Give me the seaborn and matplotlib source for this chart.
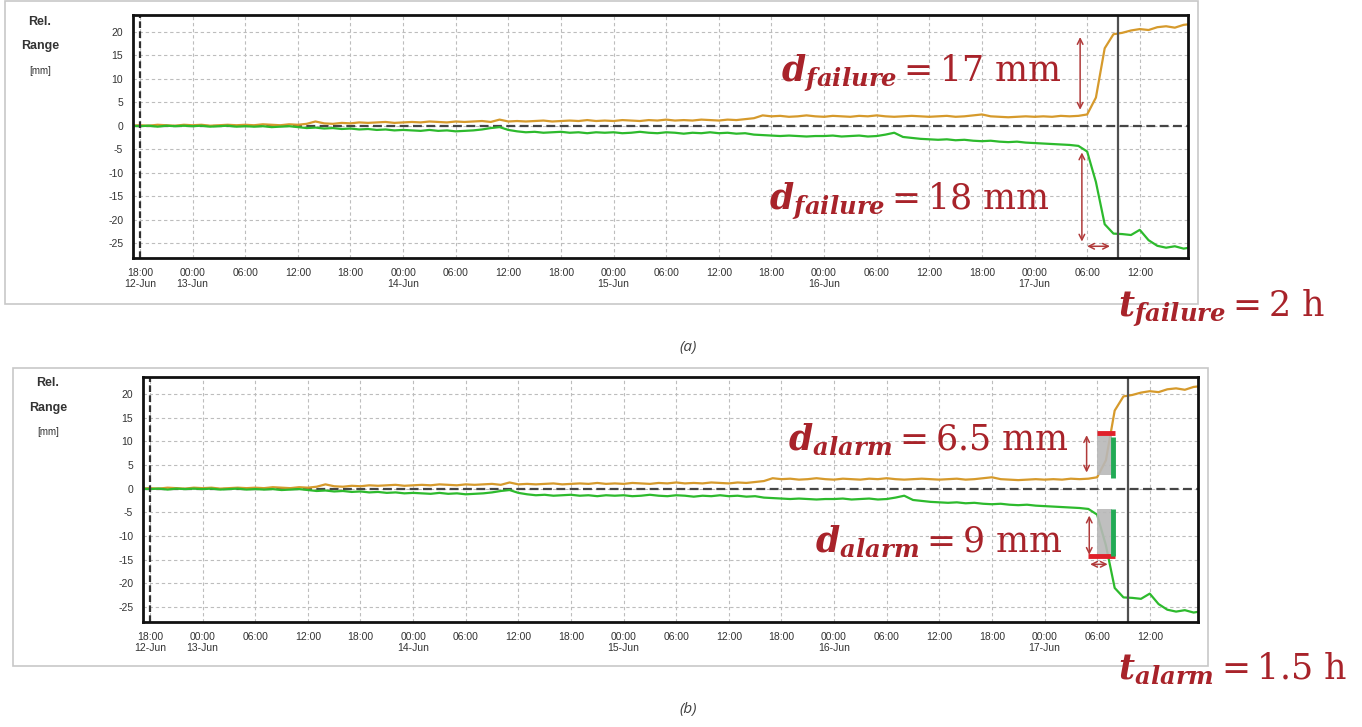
import numpy as np
import pandas as pd
import matplotlib
matplotlib.use("Agg")
import matplotlib.pyplot as plt
import matplotlib.dates as mdates
from matplotlib.patches import Rectangle
import seaborn as sns

W, H = 1362, 727

# ---------------- data (hourly readings, start 12-Jun 17:00) ----------------
START = "2019-06-12 17:00"
orange_mm = [
    0.0, 0.1, 0.0, 0.2, 0.1, 0.0, 0.2,
    0.1, 0.2, 0.0, 0.1, 0.2, 0.1, 0.2, 0.1, 0.3, 0.2, 0.1, 0.3,
    0.2, 0.4, 0.9, 0.5, 0.4, 0.6, 0.5, 0.7, 0.6, 0.7, 0.8, 0.6,
    0.7, 0.8, 0.7, 0.9, 0.8, 0.7, 0.9, 0.8, 0.9, 1.0, 0.8, 1.3,
    0.9, 1.0, 0.9, 1.0, 1.1, 0.9, 1.0, 1.1, 1.0, 1.2, 1.0, 1.1,
    1.0, 1.2, 1.1, 1.0, 1.2, 1.1, 1.3, 1.1, 1.2, 1.1, 1.3, 1.2,
    1.1, 1.3, 1.2, 1.4, 1.6, 2.2, 2.0, 2.1, 1.9, 2.0, 2.2, 2.0,
    1.9, 2.1, 2.0, 1.9, 2.1, 2.0, 2.2, 2.0, 1.9, 2.0, 2.1, 2.0,
    1.9, 2.0, 2.1, 1.9, 2.0, 2.2, 2.4, 2.0, 1.9, 1.8, 1.9, 2.0,
    1.9, 2.0, 1.9, 2.1, 2.0, 2.1, 2.4, 6.0, 16.5, 19.5, 19.8, 20.3,
    20.6, 20.4, 21.0, 21.2, 20.9, 21.5, 21.7,
]
green_mm = [
    0.0, -0.1, 0.0, -0.2, 0.0, -0.1, 0.0,
    -0.1, 0.0, -0.2, -0.1, 0.0, -0.2, -0.1, -0.2, -0.1, -0.3, -0.2, -0.1,
    -0.3, -0.5, -0.4, -0.6, -0.5, -0.7, -0.6, -0.8, -0.7, -0.9, -0.8, -1.0,
    -0.9, -1.0, -1.1, -0.9, -1.1, -1.0, -1.2, -1.1, -1.0, -0.8, -0.5, -0.3,
    -0.9, -1.2, -1.4, -1.3, -1.5, -1.4, -1.3, -1.5, -1.4, -1.6, -1.4, -1.5,
    -1.4, -1.6, -1.5, -1.3, -1.5, -1.6, -1.4, -1.5, -1.7, -1.5, -1.6, -1.4,
    -1.6, -1.5, -1.7, -1.6, -1.9, -2.0, -2.1, -2.2, -2.1, -2.2, -2.3, -2.2,
    -2.2, -2.1, -2.3, -2.2, -2.1, -2.3, -2.2, -1.9, -1.5, -2.4, -2.6, -2.8,
    -2.9, -3.0, -2.9, -3.1, -3.0, -3.2, -3.3, -3.2, -3.4, -3.5, -3.4, -3.6,
    -3.7, -3.8, -3.9, -4.0, -4.1, -4.3, -5.5, -12.0, -21.0, -23.0, -23.1, -23.3,
    -22.2, -24.4, -25.6, -26.0, -25.7, -26.2, -25.9,
]
y_ticks = [-25, -20, -15, -10, -5, 0, 5, 10, 15, 20]
x_tick_first = "2019-06-12 18:00"
x_tick_last = "2019-06-17 12:00"
x_limits = ("2019-06-12 17:12", "2019-06-17 17:30")
y_limits = (-28.2, 23.6)
failure_line_time = "2019-06-17 09:30"
start_line_time = "2019-06-12 18:00"

ORANGE = "#D69A2C"
GREEN = "#2DBA2D"
RED = "#A8232A"
ARROW_RED = "#B03A3A"

# ---------------- style ----------------
sns.set_style("white")
plt.rcParams["font.family"] = ["Liberation Sans", "DejaVu Sans"]
plt.rcParams["mathtext.fontset"] = "dejavuserif"
plt.rcParams["axes.unicode_minus"] = False

fig = plt.figure(figsize=(W / 100, H / 100), dpi=100)
fig.patch.set_facecolor("white")


def fx(px):
    return px / W


def fy(py):
    return 1 - py / H


times = pd.date_range(START, periods=len(orange_mm), freq="h")
df = pd.DataFrame({
    "time": list(times) * 2,
    "mm": orange_mm + green_mm,
    "series": ["orange"] * len(orange_mm) + ["green"] * len(green_mm),
})

tick_times = pd.date_range(x_tick_first, x_tick_last, freq="6h")
tick_labels = []
for i, t in enumerate(tick_times):
    lab = t.strftime("%H:%M")
    if i == 0 or t.hour == 0:
        lab += "\n" + t.strftime("%d-%b")
    tick_labels.append(lab)


def make_panel(rect_px):
    left, top, right, bottom = rect_px
    ax = fig.add_axes([fx(left), fy(bottom), (right - left) / W, (bottom - top) / H])
    sns.lineplot(data=df, x="time", y="mm", hue="series",
                 palette={"orange": ORANGE, "green": GREEN},
                 legend=False, ax=ax, lw=1.6)
    ax.set_xlim(pd.Timestamp(x_limits[0]), pd.Timestamp(x_limits[1]))
    ax.set_ylim(*y_limits)
    ax.set_xticks(mdates.date2num(tick_times), tick_labels)
    ax.xaxis.set_minor_locator(mdates.HourLocator(interval=1))
    ax.set_yticks(y_ticks)
    ax.set_xlabel("")
    ax.set_ylabel("")
    ax.grid(True, which="major", linestyle=(0, (3, 2.5)), color="#BDBDBD", lw=0.8)
    ax.tick_params(axis="both", which="major", labelsize=7.5, labelcolor="#333333",
                   length=4, width=0.8, color="#888888", direction="out", pad=3)
    ax.tick_params(axis="x", which="minor", length=2, width=0.6, color="#999999")
    for s in ax.spines.values():
        s.set_visible(True)
        s.set_color("#111111")
        s.set_linewidth(2.0)
    ax.axhline(0, color="#454545", lw=1.6, ls=(0, (4, 2)), zorder=1)
    ax.axvline(pd.Timestamp(start_line_time), color="#303030", lw=1.6, ls=(0, (3, 1.5)))
    ax.axvline(pd.Timestamp(failure_line_time), color="#505050", lw=1.6)
    return ax


def arrow(ax, t1, y1, t2, y2):
    ax.annotate("", xy=(pd.Timestamp(t1), y1), xytext=(pd.Timestamp(t2), y2),
                arrowprops=dict(arrowstyle="<->", color=ARROW_RED, lw=1.1,
                                mutation_scale=10, shrinkA=0, shrinkB=0))


# ---------------- panel (a) ----------------
ax1 = make_panel((133, 15, 1188, 258))
arrow(ax1, "2019-06-17 05:12", 3.4, "2019-06-17 05:12", 18.9)
arrow(ax1, "2019-06-17 05:24", -5.7, "2019-06-17 05:24", -24.7)
arrow(ax1, "2019-06-17 06:00", -25.7, "2019-06-17 08:36", -25.7)

# ---------------- panel (b) ----------------
ax2 = make_panel((143, 377, 1198, 622))
t_a = mdates.date2num(pd.Timestamp("2019-06-17 06:00"))
t_b = mdates.date2num(pd.Timestamp("2019-06-17 07:42"))
ax2.add_patch(Rectangle((t_a, 2.8), t_b - t_a, 8.9, facecolor="#B8B8B8",
                        edgecolor="none", alpha=0.9, zorder=3))
ax2.add_patch(Rectangle((t_a, -14.5), t_b - t_a, 10.2, facecolor="#B8B8B8",
                        edgecolor="none", alpha=0.9, zorder=3))
ax2.plot([pd.Timestamp("2019-06-17 06:00"), pd.Timestamp("2019-06-17 08:00")], [11.7, 11.7],
         color="#E0202A", lw=3.5, solid_capstyle="butt", zorder=4)
ax2.plot([pd.Timestamp("2019-06-17 05:00"), pd.Timestamp("2019-06-17 08:00")], [-14.3, -14.3],
         color="#E0202A", lw=3.5, solid_capstyle="butt", zorder=4)
ax2.plot([pd.Timestamp("2019-06-17 07:48"), pd.Timestamp("2019-06-17 07:48")], [2.3, 10.9],
         color="#22AA55", lw=3.5, solid_capstyle="butt", zorder=4)
ax2.plot([pd.Timestamp("2019-06-17 07:48"), pd.Timestamp("2019-06-17 07:48")], [-4.3, -14.3],
         color="#22AA55", lw=3.5, solid_capstyle="butt", zorder=4)
arrow(ax2, "2019-06-17 04:48", 3.4, "2019-06-17 04:48", 11.3)
arrow(ax2, "2019-06-17 05:06", -5.7, "2019-06-17 05:06", -14.0)
arrow(ax2, "2019-06-17 05:12", -16.0, "2019-06-17 07:12", -16.0)

# ---------------- frames, labels, annotations ----------------
fig.add_artist(Rectangle((fx(5), fy(304)), (1198 - 5) / W, (304 - 1) / H,
                         transform=fig.transFigure, fill=False, ec="#C8C8C8", lw=1.2))
fig.add_artist(Rectangle((fx(13), fy(666)), (1208 - 13) / W, (666 - 368) / H,
                         transform=fig.transFigure, fill=False, ec="#C8C8C8", lw=1.2))

for (cx, y1, y2, y3) in [(40, 22, 46, 71), (48, 383, 408, 432)]:
    fig.text(fx(cx), fy(y1), "Rel.", ha="center", va="center", fontsize=9,
             fontweight="bold", color="#333333")
    fig.text(fx(cx), fy(y2), "Range", ha="center", va="center", fontsize=9,
             fontweight="bold", color="#333333")
    fig.text(fx(cx), fy(y3), "[mm]", ha="center", va="center", fontsize=7,
             color="#333333")

fig.text(fx(688), fy(347), "(a)", ha="center", va="center", fontsize=11,
         style="italic", family="Open Sans", color="#404040")
fig.text(fx(688), fy(710), "(b)", ha="center", va="center", fontsize=11,
         style="italic", family="Open Sans", color="#404040")

ann = [
    (1062, 82, r"$\mathbfit{d}_{\mathbfit{failure}} = 17\ \mathrm{mm}$", 25),
    (1050, 210, r"$\mathbfit{d}_{\mathbfit{failure}} = 18\ \mathrm{mm}$", 25),
    (1325, 317, r"$\mathbfit{t}_{\mathbfit{failure}} = 2\ \mathrm{h}$", 25),
    (1068, 450, r"$\mathbfit{d}_{\mathbfit{alarm}} = 6.5\ \mathrm{mm}$", 25),
    (1062, 552, r"$\mathbfit{d}_{\mathbfit{alarm}} = 9\ \mathrm{mm}$", 25),
    (1347, 679, r"$\mathbfit{t}_{\mathbfit{alarm}} = 1.5\ \mathrm{h}$", 25),
]
for x, y, s, fs in ann:
    fig.text(fx(x), fy(y), s, ha="right", va="baseline", fontsize=fs, color=RED)

fig.savefig("out.png", dpi=100, facecolor="white")
